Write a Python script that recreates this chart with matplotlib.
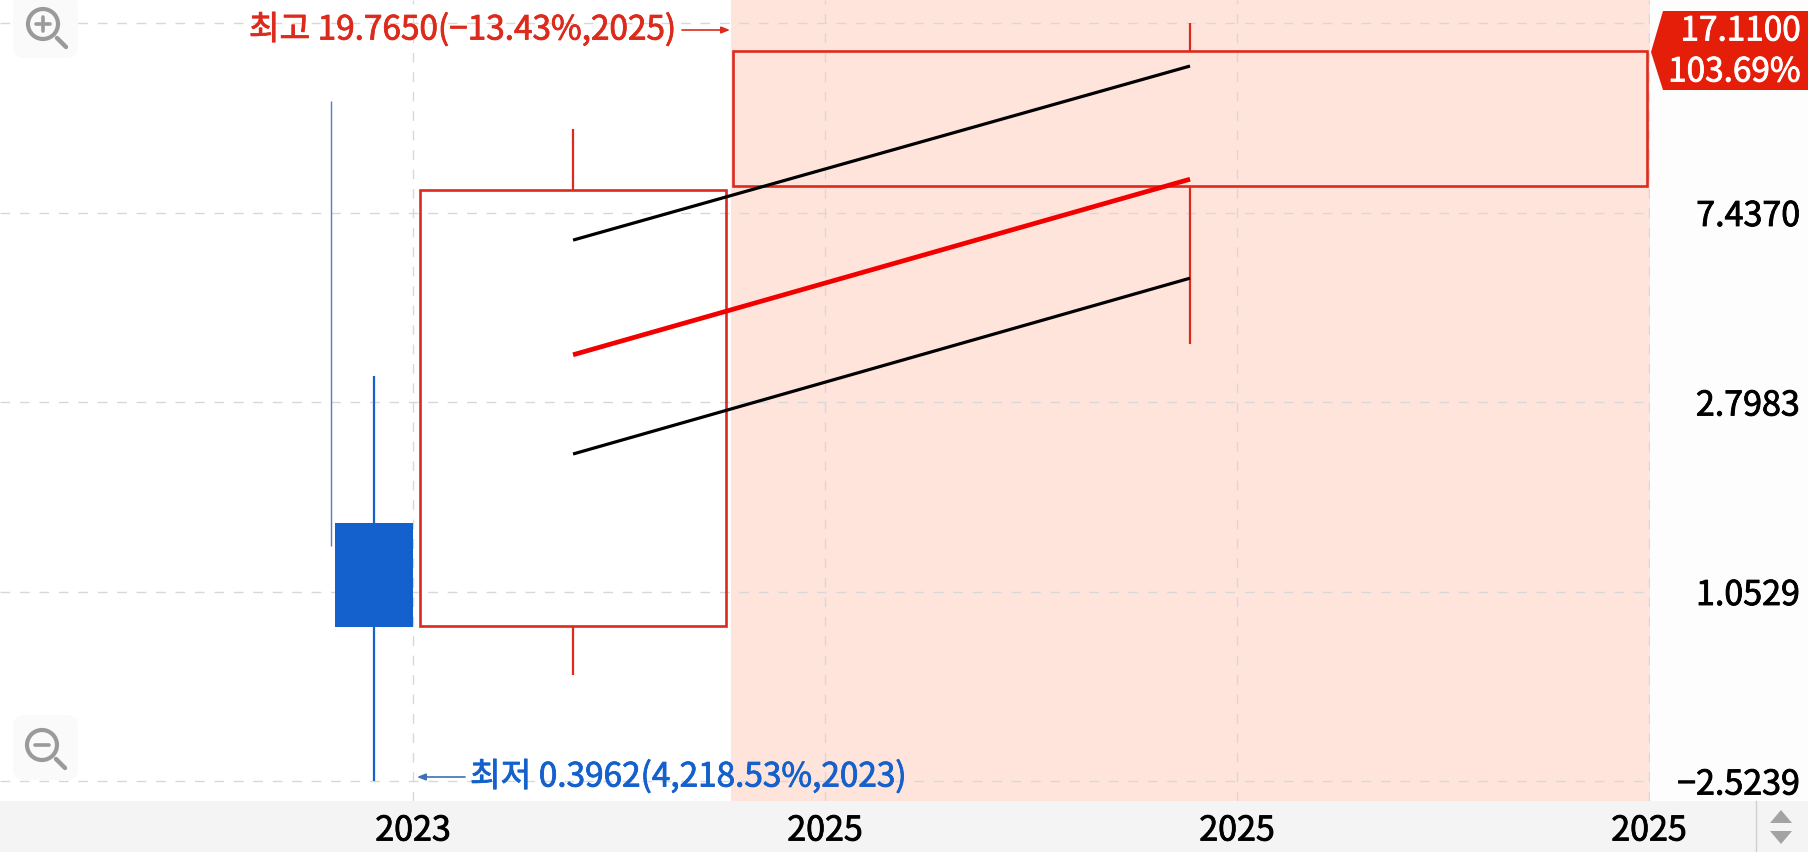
import numpy as np
import matplotlib
matplotlib.use('Agg')
import matplotlib.pyplot as plt
import matplotlib.patheffects as pe
from matplotlib.patches import Polygon, Rectangle, FancyBboxPatch, Circle

plt.rcParams['font.family'] = ['Noto Sans CJK KR', 'DejaVu Sans']

W, H = 1811, 852
PLOT_R, PLOT_B = 1650, 801

# candles, x is cumulative width on the axis (one tick step = 1)
candle_left = [-0.19, 0.017, 0.777]
candle_width = [0.19, 0.743, 2.218]
candle_open = [1.499, 0.881, 8.53]
candle_close = [0.877, 8.35, 17.11]
candle_high = [3.20, 11.44, 19.765]
candle_low = [0.3962, 0.684, 3.775]

# thin line left of the first candle
thin_x = -0.199
thin_top = 13.2
thin_bottom = 1.332

# moving lines between candle 2 and candle 3
upper_line = [6.45, 15.83]
middle_line = [3.57, 8.83]
lower_line = [2.14, 5.30]

x_ticks = [0, 1, 2, 3]
x_labels = ['2023', '2025', '2025', '2025']
y_ticks = [0.3962, 1.0529, 2.7983, 7.4370, 19.7650]
y_labels = ['\u22122.5239', '1.0529', '2.7983', '7.4370', '']
shade_span = [0.772, 3.0024]

RED = '#dc2a1c'
BLUE = '#1460cc'
GRID = '#d8d8d8'


def heavier(color):
    # no medium weight installed, thicken the regular one a little
    return [pe.withStroke(linewidth=0.6, foreground=color)]


fig = plt.figure(figsize=(W / 100, H / 100), dpi=100, facecolor='white')


def pixel_axes(zorder):
    a = fig.add_axes([0, 0, 1, 1], zorder=zorder)
    a.set_xlim(0, W)
    a.set_ylim(H, 0)
    a.axis('off')
    a.patch.set_alpha(0)
    return a


back = pixel_axes(0)
back.add_patch(Rectangle((PLOT_R, 0), 1808 - PLOT_R, PLOT_B, fc='#fdfdfd', ec='none'))
back.add_patch(Rectangle((0, PLOT_B), 1808, H - PLOT_B, fc='#f4f4f4', ec='none'))
back.plot([1756, 1756], [PLOT_B, H], color='#d0d0d0', lw=1)
back.add_patch(Polygon([(1770, 823), (1781, 810), (1792, 823)], fc='#a3a3a3', ec='none'))
back.add_patch(Polygon([(1770, 831), (1781, 844), (1792, 831)], fc='#a3a3a3', ec='none'))

ax = fig.add_axes([0, 1 - PLOT_B / H, PLOT_R / W, PLOT_B / H], zorder=1)
ax.patch.set_alpha(0)
ax.set_yscale('log')
# gridline for the low sits at pixel 781, the one for the high at pixel 23
k = np.log(y_ticks[-1] / y_ticks[0]) / (781 - 23)
ax.set_ylim(y_ticks[0] * np.exp(-20 * k), y_ticks[-1] * np.exp(23 * k))
ax.set_xlim(-413 / 412, (PLOT_R - 413) / 412)
for s in ax.spines.values():
    s.set_visible(False)

ax.axvspan(shade_span[0], shade_span[1], color='#ffe4dc', lw=0, zorder=0)

ax.set_xticks(x_ticks)
ax.set_xticklabels(x_labels, fontsize=24.5, color='black', path_effects=heavier('black'))
ax.set_yticks(y_ticks)
ax.set_yticklabels(y_labels, fontsize=24.5, color='black', ha='right', path_effects=heavier('black'))
ax.minorticks_off()
ax.yaxis.tick_right()
ax.tick_params(axis='y', length=0, pad=108)
ax.tick_params(axis='x', length=0, pad=9)
ax.grid(True, color=GRID, lw=1, linestyle=(0, (7, 7)), zorder=1)
ax.set_axisbelow(True)

ax.vlines(thin_x, thin_bottom, thin_top, color='#4a7fd0', lw=1, zorder=3)

centers = []
for left, width, o, c, hi, lo in zip(candle_left, candle_width, candle_open, candle_close, candle_high, candle_low):
    mid = left + width / 2
    centers.append(mid)
    top_val, bottom_val = max(o, c), min(o, c)
    if c < o:
        ax.vlines(mid, lo, hi, color=BLUE, lw=1.6, zorder=3)
        ax.bar(mid, top_val - bottom_val, width=width, bottom=bottom_val, color=BLUE, lw=0, zorder=4)
    else:
        ax.vlines(mid, top_val, hi, color=RED, lw=1.6, zorder=3)
        ax.vlines(mid, lo, bottom_val, color=RED, lw=1.6, zorder=3)
        ax.bar(mid, top_val - bottom_val, width=width, bottom=bottom_val, fc='none', ec=RED, lw=1.9, zorder=4)

line_x = centers[1:]
ax.plot(line_x, upper_line, color='black', lw=2.3, zorder=5, solid_capstyle='butt')
ax.plot(line_x, lower_line, color='black', lw=2.3, zorder=5, solid_capstyle='butt')
ax.plot(line_x, middle_line, color='#f20000', lw=3.4, zorder=5, solid_capstyle='butt')

top = pixel_axes(2)

# high and low callouts
top.text(675, 30, '\ucd5c\uace0 19.7650(\u221213.43%,2025)', color=RED, fontsize=24,
         ha='right', va='center', path_effects=heavier(RED))
top.annotate('', xy=(730, 30), xytext=(682, 30),
             arrowprops=dict(arrowstyle='-|>,head_length=0.5,head_width=0.2', color=RED, lw=1.2,
                             shrinkA=0, shrinkB=0))
top.text(470, 777, '\ucd5c\uc800 0.3962(4,218.53%,2023)', color=BLUE, fontsize=24,
         ha='left', va='center', path_effects=heavier(BLUE))
top.annotate('', xy=(417, 777), xytext=(465, 777),
             arrowprops=dict(arrowstyle='-|>,head_length=0.5,head_width=0.2', color='#3f70b5', lw=1.2,
                             shrinkA=0, shrinkB=0))

# last price tag
top.add_patch(Polygon([(1651, 52), (1663, 11), (1808, 11), (1808, 90), (1663, 90)], fc='#e51e0a', ec='none'))
top.text(1800, 31, '17.1100', color='white', fontsize=24, ha='right', va='center', path_effects=heavier('white'))
top.text(1800, 72, '103.69%', color='white', fontsize=24, ha='right', va='center', path_effects=heavier('white'))


def zoom_icon(x0, y0, y1, cx, cy, sign):
    top.add_patch(FancyBboxPatch((x0 + 8, y0 + 8), 49, y1 - y0 - 16, boxstyle='round,pad=8,rounding_size=12',
                                 fc='#fafafa', ec='none'))
    top.add_patch(Circle((cx, cy), 15, fc='none', ec='#9a9a9a', lw=3))
    top.plot([cx + 14, cx + 23], [cy + 14, cy + 23], color='#9a9a9a', lw=3.2, solid_capstyle='round')
    top.plot([cx - 7, cx + 7], [cy, cy], color='#9a9a9a', lw=2.6, solid_capstyle='round')
    if sign == '+':
        top.plot([cx, cx], [cy - 7, cy + 7], color='#9a9a9a', lw=2.6, solid_capstyle='round')


zoom_icon(13, -6, 58, 43, 24, '+')
zoom_icon(13, 715, 780, 42, 745, '-')

fig.savefig('out.png', dpi=100, facecolor=fig.get_facecolor())
